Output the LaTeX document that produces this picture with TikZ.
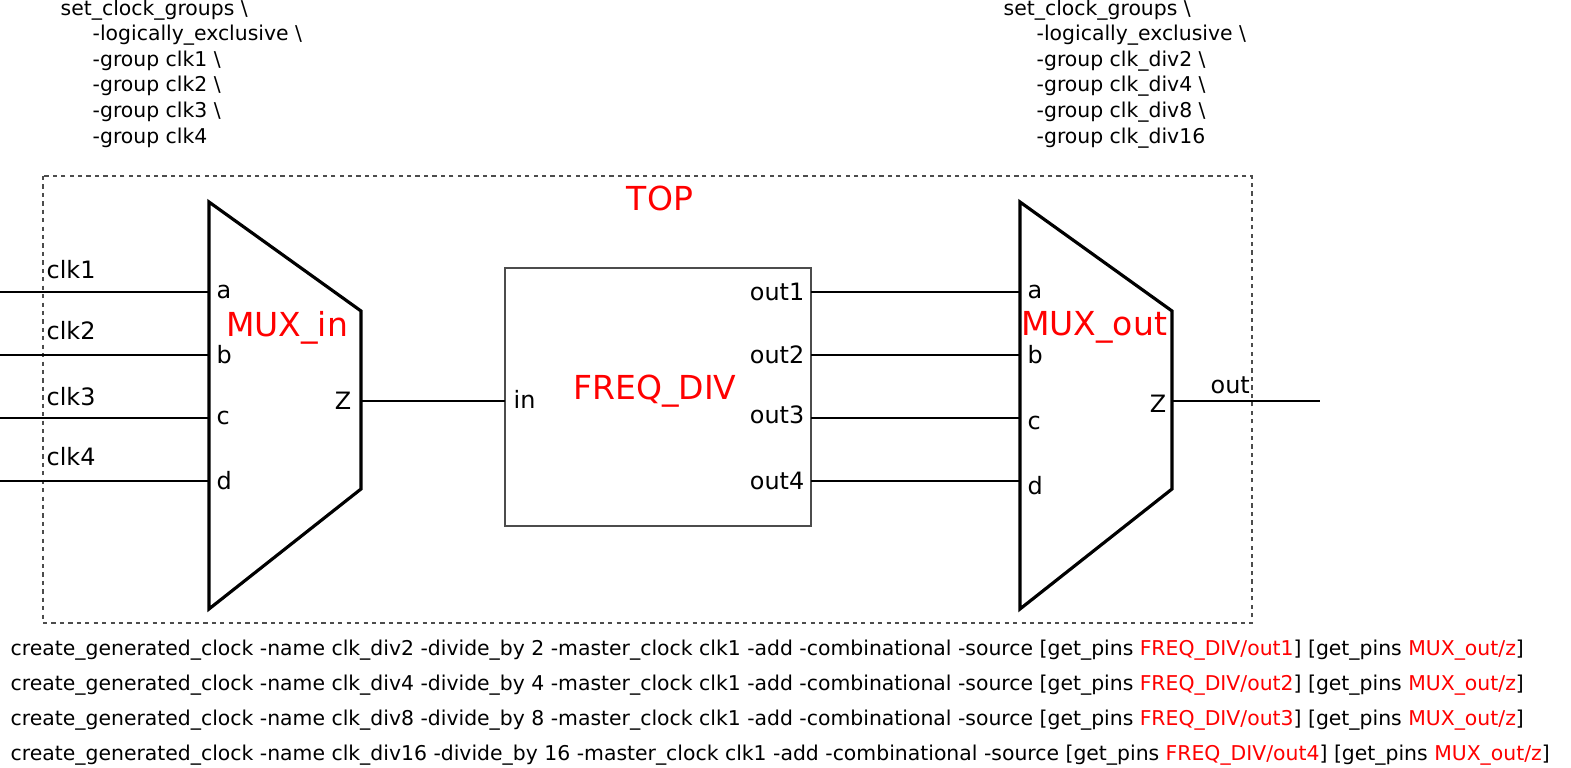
\documentclass[tikz,border=0pt]{standalone}
\usepackage{fontspec}
\setmainfont{DejaVu Sans}
\begin{document}
\begin{tikzpicture}[x=0.1mm,y=-0.1mm,
  txt/.style={font=\fontsize{5.8}{6}\selectfont, inner sep=0pt},
  big/.style={font=\fontsize{9.4}{10}\selectfont, text=red, inner sep=0pt},
  wire/.style={line width=0.8pt},
  pin/.style={txt, font=\fontsize{6.8}{7}\selectfont}]
\useasboundingbox (0,0) rectangle (1571,768);

% top block frame
\draw[dash pattern=on 1.2pt off 1.2pt, gray!60!black, line width=0.7pt] (43,176) rectangle (1252,623);
\node[big] (top) at (660,198) {TOP};

% mux in
\draw[line width=0.9pt] (209,202) -- (361,311) -- (361,489) -- (209,609) -- cycle;
\node[big] (muxin) at (287,328) {MUX\_in};
\foreach \n/\y/\p in {1/292/a,2/355/b,3/418/c,4/481/d}{
  \coordinate (i\n) at (0,\y);
  \coordinate (ma\n) at (209,\y);
  \node[pin, anchor=west] at (216,\y) {\p};
}
\node[pin, anchor=west] at (46,270) {clk1};
\node[pin, anchor=west] at (46,331) {clk2};
\node[pin, anchor=west] at (46,397) {clk3};
\node[pin, anchor=west] at (46,457) {clk4};
\foreach \n in {1,2,3,4} \draw[wire] (i\n) -- (ma\n);
\coordinate (zin) at (361,401);
\node[pin, anchor=east] at (352,401) {Z};

% freq div
\draw[black!70, line width=0.8pt] (505,268) rectangle (811,526);
\node[big] (fd) at (655,391) {FREQ\_DIV};
\coordinate (fin) at (505,401);
\node[pin, anchor=west] at (513,399) {in};
\draw[wire] (zin) -- (fin);
\foreach \n/\y in {1/292,2/355,3/418,4/481}{
  \coordinate (fo\n) at (811,\y);
  \coordinate (mb\n) at (1020,\y);
  \draw[wire] (fo\n) -- (mb\n);
}
\node[pin, anchor=east] at (805,292) {out1};
\node[pin, anchor=east] at (805,355) {out2};
\node[pin, anchor=east] at (805,415) {out3};
\node[pin, anchor=east] at (805,481) {out4};

% mux out
\draw[line width=0.9pt] (1020,202) -- (1172,311) -- (1172,489) -- (1020,609) -- cycle;
\node[big] (muxout) at (1094,327) {MUX\_out};
\foreach \y/\p in {292/a,355/b,423/c,486/d}
  \node[pin, anchor=west] at (1027,\y) {\p};
\node[pin, anchor=east] at (1167,404) {Z};
\coordinate (zo) at (1172,401);
\coordinate (outend) at (1320,401);
\draw[wire] (zo) -- (outend);
\node[pin, anchor=west] at (1210,385) {out};

% constraints
\node[txt, anchor=west] at (60,10) {set\_clock\_groups \textbackslash};
\foreach \y/\t in {35/-logically\_exclusive \textbackslash,61/-group clk1 \textbackslash,86/-group clk2 \textbackslash,112/-group clk3 \textbackslash,138/-group clk4}
  \node[txt, anchor=west] at (92,\y) {\t};
\node[txt, anchor=west] at (1003,10) {set\_clock\_groups \textbackslash};
\foreach \y/\t in {35/-logically\_exclusive \textbackslash,61/-group clk\_div2 \textbackslash,86/-group clk\_div4 \textbackslash,112/-group clk\_div8 \textbackslash,138/-group clk\_div16}
  \node[txt, anchor=west] at (1036,\y) {\t};
\foreach \y/\d/\k in {650/2/1,685/4/2,720/8/3,755/16/4}
  \node[txt, anchor=west] at (10,\y) {create\_generated\_clock -name clk\_div\d\ -divide\_by \d\ -master\_clock clk1 -add -combinational -source [get\_pins \textcolor{red}{FREQ\_DIV/out\k}] [get\_pins \textcolor{red}{MUX\_out/z}]};
\end{tikzpicture}
\end{document}
